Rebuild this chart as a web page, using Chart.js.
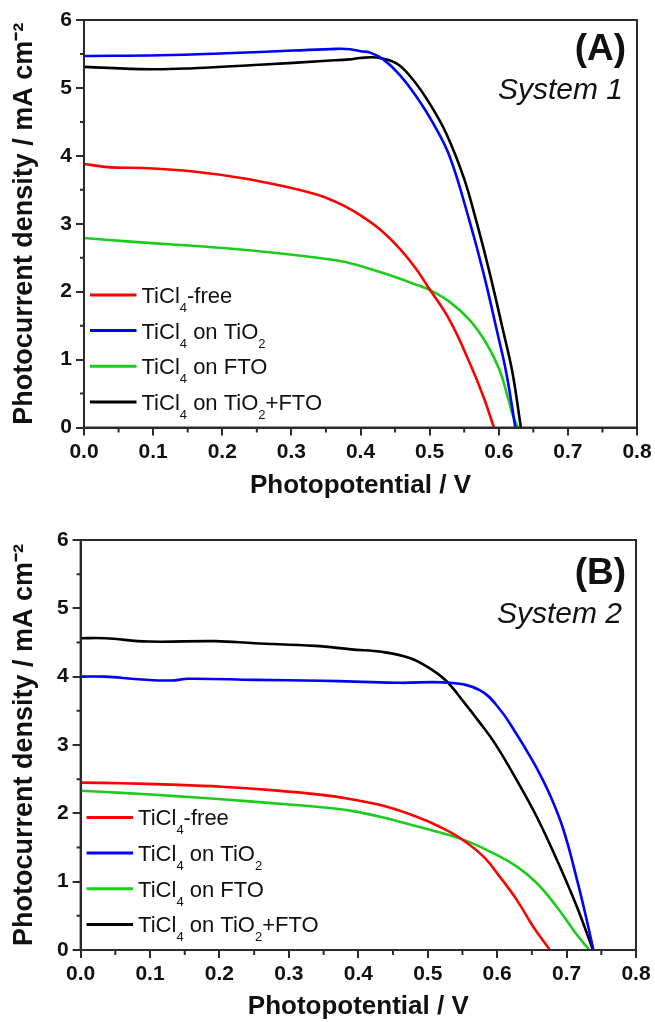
<!DOCTYPE html>
<html><head><meta charset="utf-8">
<script src="https://cdn.jsdelivr.net/npm/chart.js@4.4.1/dist/chart.umd.min.js"></script>
<style>
html,body{margin:0;padding:0;background:#fff;overflow:hidden;width:655px;height:1022px;}
.wrap{position:absolute;left:0;width:655px;}
canvas{display:block;}
</style></head><body>
<div class="wrap" style="top:0;height:505px"><canvas id="cA" width="655" height="505"></canvas></div>
<div class="wrap" style="top:500px;height:530px"><canvas id="cB" width="655" height="530"></canvas></div>
<script>
// ---- labels ----
const seriesNames = ["TiCl₄-free", "TiCl₄ on TiO₂", "TiCl₄ on FTO", "TiCl₄ on TiO₂+FTO"];
const seriesColors = ["#ff0000", "#0000ff", "#1ccc1c", "#000000"];
const xTitle = "Photopotential / V";
const yTitle = "Photocurrent density / mA cm⁻²";
const xTickValues = [0, 0.1, 0.2, 0.3, 0.4, 0.5, 0.6, 0.7, 0.8];
const yTickValues = [0, 1, 2, 3, 4, 5, 6];
const xMinorTicks = [0.05, 0.15, 0.25, 0.35, 0.45, 0.55, 0.65, 0.75];
const yMinorTicks = [0.5, 1.5, 2.5, 3.5, 4.5, 5.5];

// ---- Panel A : System 1 ----
const vA_free  = [0, 0.038, 0.086, 0.158, 0.23, 0.303, 0.33, 0.351, 0.375, 0.399, 0.428, 0.457, 0.48, 0.499, 0.529, 0.558, 0.578, 0.593];
const jA_free  = [3.88, 3.83, 3.82, 3.77, 3.67, 3.52, 3.45, 3.38, 3.27, 3.13, 2.92, 2.63, 2.34, 2.05, 1.58, 0.95, 0.45, 0];
const vA_TiO2  = [0, 0.11, 0.206, 0.303, 0.365, 0.385, 0.40, 0.414, 0.433, 0.457, 0.481, 0.505, 0.529, 0.556, 0.578, 0.597, 0.611, 0.624];
const jA_TiO2  = [5.47, 5.48, 5.51, 5.55, 5.575, 5.57, 5.54, 5.52, 5.42, 5.19, 4.87, 4.48, 3.99, 3.10, 2.27, 1.44, 0.80, 0];
const vA_FTO   = [0, 0.062, 0.134, 0.206, 0.278, 0.351, 0.385, 0.434, 0.4815, 0.4994, 0.529, 0.558, 0.582, 0.601, 0.613, 0.621, 0.628];
const jA_FTO   = [2.79, 2.74, 2.69, 2.64, 2.57, 2.48, 2.42, 2.27, 2.10, 2.03, 1.85, 1.58, 1.24, 0.85, 0.45, 0.16, 0];
const vA_both  = [0, 0.095, 0.158, 0.254, 0.351, 0.384, 0.399, 0.423, 0.452, 0.476, 0.50, 0.524, 0.549, 0.567, 0.587, 0.606, 0.620, 0.632];
const jA_both  = [5.31, 5.275, 5.29, 5.34, 5.40, 5.42, 5.44, 5.447, 5.36, 5.12, 4.77, 4.33, 3.69, 3.06, 2.27, 1.44, 0.80, 0];

// ---- Panel B : System 2 ----
const vB_free  = [0, 0.059, 0.131, 0.203, 0.275, 0.347, 0.388, 0.436, 0.484, 0.518, 0.547, 0.580, 0.604, 0.6285, 0.652, 0.676];
const jB_free  = [2.45, 2.44, 2.42, 2.39, 2.34, 2.27, 2.21, 2.11, 1.95, 1.80, 1.635, 1.37, 1.07, 0.73, 0.34, 0];
const vB_TiO2  = [0, 0.035, 0.083, 0.131, 0.155, 0.251, 0.347, 0.395, 0.46, 0.532, 0.5755, 0.604, 0.6285, 0.640, 0.657, 0.676, 0.6955, 0.715, 0.729, 0.7387];
const jB_TiO2  = [4.0, 4.0, 3.963, 3.943, 3.97, 3.953, 3.94, 3.928, 3.91, 3.91, 3.80, 3.52, 3.15, 2.96, 2.66, 2.27, 1.76, 1.03, 0.44, 0];
const vB_FTO   = [0, 0.059, 0.131, 0.203, 0.275, 0.347, 0.388, 0.436, 0.484, 0.547, 0.590, 0.6285, 0.657, 0.686, 0.710, 0.7245, 0.733];
const jB_FTO   = [2.33, 2.30, 2.255, 2.205, 2.15, 2.09, 2.04, 1.94, 1.81, 1.63, 1.44, 1.22, 0.98, 0.63, 0.29, 0.10, 0];
const vB_both  = [0, 0.035, 0.0976, 0.194, 0.251, 0.338, 0.39, 0.436, 0.475, 0.503, 0.5275, 0.5515, 0.5755, 0.597, 0.628, 0.657, 0.686, 0.715, 0.738];
const jB_both  = [4.563, 4.563, 4.514, 4.52, 4.49, 4.45, 4.40, 4.36, 4.27, 4.12, 3.93, 3.635, 3.32, 3.02, 2.49, 1.95, 1.32, 0.63, 0];

const FONT = "'Liberation Sans', Arial, Helvetica, sans-serif";
const INK = '#111';
const FRAME = '#2b2b2b';
const subMap = {'₀':'0','₁':'1','₂':'2','₃':'3','₄':'4','₅':'5','₆':'6','₇':'7','₈':'8','₉':'9'};

function drawRichLabel(ctx, text, x, baseY) {
  let runs = [], cur = '', curSub = false;
  for (const ch of text) {
    const isSub = ch in subMap;
    if (isSub !== curSub && cur) { runs.push([cur, curSub]); cur = ''; }
    curSub = isSub; cur += isSub ? subMap[ch] : ch;
  }
  if (cur) runs.push([cur, curSub]);
  let px = x;
  for (const [t, sub] of runs) {
    ctx.font = sub ? `13px ${FONT}` : `22px ${FONT}`;
    ctx.fillText(t, px, sub ? baseY + 9 : baseY);
    px += ctx.measureText(t).width;
  }
}

const framePlugin = {
  id: 'frame',
  afterDraw(chart, args, o) {
    const {ctx, chartArea: a, scales: {x, y}} = chart;
    ctx.save();
    ctx.strokeStyle = FRAME; ctx.lineWidth = 2;
    ctx.strokeRect(a.left, a.top, a.right - a.left, a.bottom - a.top);
    ctx.beginPath();
    for (const v of xMinorTicks) { const px = x.getPixelForValue(v); ctx.moveTo(px, a.bottom); ctx.lineTo(px, a.bottom + 5); }
    for (const v of yMinorTicks) { const py = y.getPixelForValue(v); ctx.moveTo(a.left, py); ctx.lineTo(a.left - 4, py); }
    ctx.stroke();
    // legend
    const offs = [132.6, 96.9, 61.2, 25.5];
    chart.data.datasets.forEach((ds, i) => {
      const ly = a.bottom - offs[i];
      ctx.strokeStyle = ds.borderColor; ctx.lineWidth = 3;
      ctx.beginPath(); ctx.moveTo(a.left + 6, ly); ctx.lineTo(a.left + 52.5, ly); ctx.stroke();
      ctx.fillStyle = INK; ctx.textAlign = 'left'; ctx.textBaseline = 'alphabetic';
      drawRichLabel(ctx, ds.label, a.left + 57.5, ly + 7.9);
    });
    // panel labels
    ctx.fillStyle = INK; ctx.textAlign = 'right'; ctx.textBaseline = 'alphabetic';
    ctx.font = `bold 37px ${FONT}`;
    ctx.fillText(o.panel, a.right - o.panelDx, a.top + o.panelDy);
    ctx.font = `italic 30px ${FONT}`;
    ctx.fillText(o.system, a.right - 14, a.top + o.systemDy);
    ctx.restore();
  }
};

function makeChart(id, vs, js, cfg) {
  const datasets = vs.map((v, k) => ({
    label: seriesNames[k],
    data: v.map((xv, i) => ({x: xv, y: js[k][i]})),
    borderColor: seriesColors[k],
    borderWidth: 2.6,
    pointRadius: 0,
    fill: false,
    tension: 0.4
  }));
  return new Chart(document.getElementById(id), {
    type: 'line',
    data: {datasets},
    plugins: [framePlugin],
    options: {
      responsive: false,
      animation: false,
      events: [],
      layout: {padding: {left: 0, right: cfg.padRight, top: cfg.padTop, bottom: cfg.padBottom}},
      plugins: {
        legend: {display: false},
        tooltip: {enabled: false},
        frame: {panel: cfg.panel, system: cfg.system, panelDx: cfg.panelDx, panelDy: cfg.panelDy, systemDy: cfg.systemDy}
      },
      scales: {
        x: {
          type: 'linear', min: 0, max: 0.8,
          afterBuildTicks: s => { s.ticks = xTickValues.map(v => ({value: v})); },
          ticks: {font: {family: FONT, size: 21, weight: 'bold'}, color: INK, padding: 4, maxRotation: 0,
                  callback: v => Number(v).toFixed(1)},
          grid: {display: true, drawOnChartArea: false, drawTicks: true, tickLength: 8, color: FRAME, lineWidth: 2},
          border: {display: true, color: FRAME, width: 2},
          title: {display: true, text: xTitle, color: INK, font: {family: FONT, size: 26, weight: 'bold', lineHeight: 1.2}, padding: 0},
          afterFit: s => { s.height = cfg.xTitleOff + 15.6; s.paddingLeft = 0; s.paddingRight = 0; }
        },
        y: {
          type: 'linear', min: 0, max: 6,
          afterBuildTicks: s => { s.ticks = yTickValues.map(v => ({value: v})); },
          ticks: {font: {family: FONT, size: 21, weight: 'bold'}, color: INK, padding: 4,
                  callback: v => String(v)},
          grid: {display: true, drawOnChartArea: false, drawTicks: true, tickLength: 8, color: FRAME, lineWidth: 2},
          border: {display: true, color: FRAME, width: 2},
          title: {display: true, text: yTitle, color: INK, font: {family: FONT, size: 27, weight: 'bold', lineHeight: 1.2}, padding: {top: 8.8, bottom: 0}},
          afterFit: s => { s.width = cfg.yWidth; s.paddingTop = 0; s.paddingBottom = 0; }
        }
      }
    }
  });
}

makeChart('cA', [vA_free, vA_TiO2, vA_FTO, vA_both], [jA_free, jA_TiO2, jA_FTO, jA_both],
  {padRight: 18, padTop: 20, padBottom: 505 - 427.5 - (58.5 + 15.6), yWidth: 84, xTitleOff: 58.5,
   panel: '(A)', system: 'System 1', panelDx: 11, panelDy: 40, systemDy: 79});
makeChart('cB', [vB_free, vB_TiO2, vB_FTO, vB_both], [jB_free, jB_TiO2, jB_FTO, jB_both],
  {padRight: 19, padTop: 40, padBottom: 530 - 450 - (57 + 15.6), yWidth: 80.6, xTitleOff: 57,
   panel: '(B)', system: 'System 2', panelDx: 10, panelDy: 44, systemDy: 82.7});
</script>
</body></html>
